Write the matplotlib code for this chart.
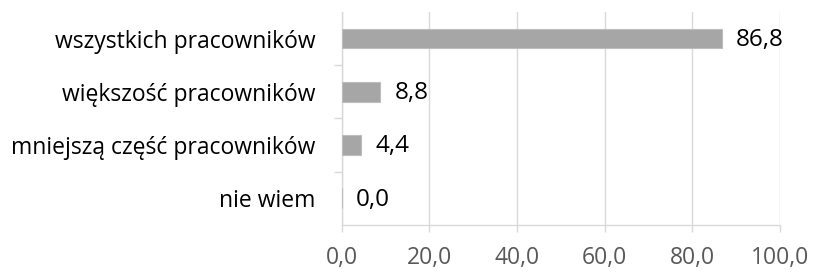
import matplotlib.pyplot as plt
from matplotlib.ticker import FixedLocator, FuncFormatter

categories = ["wszystkich pracowników", "większość pracowników",
              "mniejszą część pracowników", "nie wiem"]
values = [86.8, 8.8, 4.4, 0.0]
xticks = [0, 20, 40, 60, 80, 100]

plt.rcParams['font.family'] = ['Open Sans', 'DejaVu Sans']

fig = plt.figure(figsize=(8.14, 2.73), dpi=100)
ax = fig.add_axes([0.420, 0.176, 0.538, 0.780])

pos = list(range(len(categories)))[::-1]
ax.barh(pos, values, height=0.37, color="#A6A6A6", edgecolor="#BDBDBD",
        linewidth=0.8, zorder=3)

for p, v in zip(pos, values):
    ax.annotate(f"{v:.1f}".replace(".", ","), (v, p), xytext=(10, -1),
                textcoords="offset points", va="center", ha="left",
                fontsize=17.5, color="#000000")

ax.set_xlim(0, 100)
ax.set_ylim(-0.5, len(categories) - 0.5)
ax.set_xticks(xticks)
ax.xaxis.set_major_formatter(FuncFormatter(lambda x, _: f"{x:.1f}".replace(".", ",")))
ax.set_yticks(pos)
ax.set_yticklabels(categories)
ax.yaxis.set_minor_locator(FixedLocator([0.5, 1.5, 2.5]))

ax.grid(axis="x", color="#D9D9D9", linewidth=1.0, zorder=0)
for s in ["top", "right"]:
    ax.spines[s].set_visible(False)
for s in ["left", "bottom"]:
    ax.spines[s].set_color("#D9D9D9")
    ax.spines[s].set_linewidth(1.0)

ax.tick_params(axis="y", which="major", length=0, pad=19, labelsize=16.5,
               labelcolor="#000000")
ax.tick_params(axis="y", which="minor", length=6, color="#D9D9D9", width=1.0)
ax.tick_params(axis="x", length=5, color="#D9D9D9", width=1.0, pad=10,
               labelsize=16.5, labelcolor="#595959")

fig.savefig("out.png", dpi=100)
